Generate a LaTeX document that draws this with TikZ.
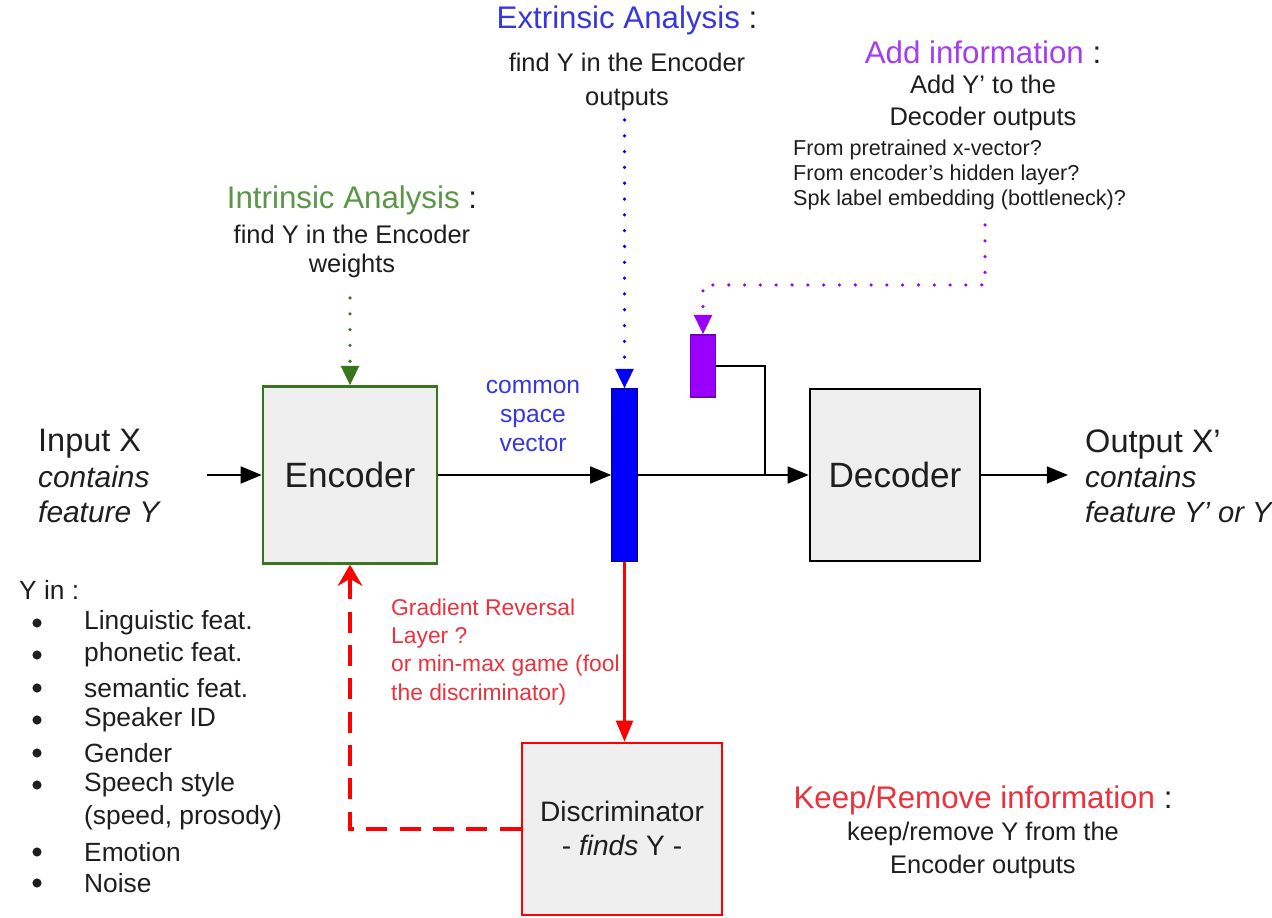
\documentclass[tikz,border=0pt]{standalone}
\usepackage{fontspec}
\setmainfont{Liberation Sans}
\usetikzlibrary{arrows.meta,positioning}
\definecolor{green1}{RGB}{56,118,29}
\definecolor{green2}{RGB}{90,150,70}
\definecolor{blue1}{RGB}{0,0,255}
\definecolor{blue2}{RGB}{55,55,225}
\definecolor{purple1}{RGB}{153,0,255}
\definecolor{purple2}{RGB}{165,60,240}
\definecolor{red1}{RGB}{255,0,0}
\definecolor{red2}{RGB}{235,50,60}
\definecolor{grey1}{RGB}{239,239,239}
\definecolor{ink}{RGB}{30,30,30}

\begin{document}
\begin{tikzpicture}[x=0.02cm, y=-0.02cm, text=ink,
  box/.style={draw, fill=grey1, line width=1.4pt, inner sep=0pt},
  bar/.style={draw, line width=0.8pt, minimum width=0.5cm, inner sep=0pt},
  flow/.style={line width=1.5pt, -{Triangle[length=12pt,width=9.5pt]}},
  wire/.style={line width=1.5pt},
  back/.style={red1, line width=2.2pt, dash pattern=on 12pt off 7pt, -{Stealth[length=12pt,width=14pt,inset=4pt]}},
  dots/.style={line width=2pt, line cap=round, dash pattern=on 0pt off 9pt, -{Triangle[length=11pt,width=10pt]}},
  bigfont/.style={font={\fontsize{20}{21}\selectfont}},
  titlefont/.style={font={\fontsize{17.8}{21}\selectfont}},
  bodyfont/.style={font={\fontsize{14.5}{19.3}\selectfont}},
  smallfont/.style={font={\fontsize{12.3}{14.4}\selectfont}},
  redfont/.style={font={\fontsize{13}{16}\selectfont}},
  listfont/.style={font={\fontsize{15}{18}\selectfont}},
  sidefont/.style={font={\fontsize{18.5}{20}\selectfont}},
]
\useasboundingbox (0,0) rectangle (1272,918);

% ----- main blocks -----
\node[box, draw=green1, minimum width=3.48cm, minimum height=3.54cm, bigfont] (enc) at (350,475) {Encoder};
\node[box, draw=black, minimum width=3.4cm, minimum height=3.44cm, bigfont] (dec) at (895,475) {Decoder};
\node[box, draw=red1, minimum width=4cm, minimum height=3.44cm, align=center,
  font={\fontsize{16}{19}\selectfont}] (disc) at (622,829) {\\[-8pt]Discriminator\\- \textit{finds} Y -};
\node[bar, fill=blue1, draw=blue1!75!black, minimum height=3.44cm] (csv) at (624.5,475) {};
\node[bar, fill=purple1, draw=purple1!75!black, minimum height=1.24cm] (addv) at (703,366) {};

% ----- main line -----
\coordinate (inx) at (207,475);
\coordinate (outx) at (1068,475);
\coordinate (jn) at (765,475);
\draw[flow] (inx) -- (enc.west);
\draw[flow] (enc.east) -- (csv.west);
\draw[flow] (csv.east) -- (dec.west);
\draw[wire] (addv.east) -| (jn);
\draw[flow] (dec.east) -- (outx);

% ----- discriminator loop -----
\draw[flow, red1, line width=1.7pt] (csv.south) -- (csv.south |- disc.north);
\draw[back] (disc.west) -| (enc.south);

% ----- dotted hints -----
\coordinate (intrtop) at (350,298);
\coordinate (extrtop) at (624.5,120);
\coordinate (addtop) at (985,225);
\draw[dots, green1] (intrtop) -- (enc.north);
\draw[dots, blue1] (extrtop) -- (csv.north);
\draw[dots, purple1] (addtop) -- (985,285) -| (addv.north);

% ----- labels -----
\node[titlefont] (extrt) at (627,20) {{\color{blue2}Extrinsic Analysis} :};
\node[bodyfont, align=center] (extrb) at (627,82) {find Y in the Encoder\\outputs};

\node[titlefont] (addt) at (983,52) {{\color{purple2}Add information} :};
\node[bodyfont, align=center, font={\fontsize{14.5}{18}\selectfont}] (addb) at (983,103) {Add Y' to the\\Decoder outputs};
\node[smallfont, align=left, anchor=west] (addq) at (787,175) {From pretrained x-vector?\\From encoder's hidden layer?\\Spk label embedding (bottleneck)?};

\node[titlefont] (intrt) at (352,200) {{\color{green2}Intrinsic Analysis} :};
\node[bodyfont, align=center, font={\fontsize{14.5}{16.5}\selectfont}] (intrb) at (352,251) {find Y in the Encoder\\weights};

\node[align=center, text=blue2, font={\fontsize{14}{16.4}\selectfont}] (csvt) at (533,416) {common\\space\\vector};

\node[sidefont, align=left, anchor=west] (inxt) at (32,476) {Input X\\{\fontsize{17}{20}\selectfont\itshape contains}\\{\fontsize{17}{20}\selectfont\itshape feature Y}};
\node[sidefont, align=left, anchor=west] (outxt) at (1079,476) {Output X'\\{\fontsize{17}{20}\selectfont\itshape contains}\\{\fontsize{16.6}{20}\selectfont\itshape feature Y' or Y}};

\node[redfont, text=red2, align=left, anchor=west] (grl) at (385,652) {Gradient Reversal\\Layer ?\\or min-max game (fool\\the discriminator)};

\node[titlefont] (keept) at (983,800) {{\color{red2}Keep/Remove information} :};
\node[bodyfont, align=center, font={\fontsize{14.5}{18.7}\selectfont}] (keepb) at (983,850) {keep/remove Y from the\\Encoder outputs};

% ----- Y list -----
\node[listfont, anchor=west] (yin) at (13,590) {Y in :};
\foreach \yy/\t [count=\i] in {623/Linguistic feat., 655/phonetic feat., 688/semantic feat., 720/Speaker ID, 753/Gender, 785/Speech style, 852/Emotion, 883/Noise} {
  \fill[ink] (37,\yy) circle (2.6pt);
  \node[listfont, anchor=west] (item\i) at (78,\yy) {\t};
}
\node[listfont, anchor=west] (itemx) at (78,818) {(speed, prosody)};

\end{tikzpicture}
\end{document}
